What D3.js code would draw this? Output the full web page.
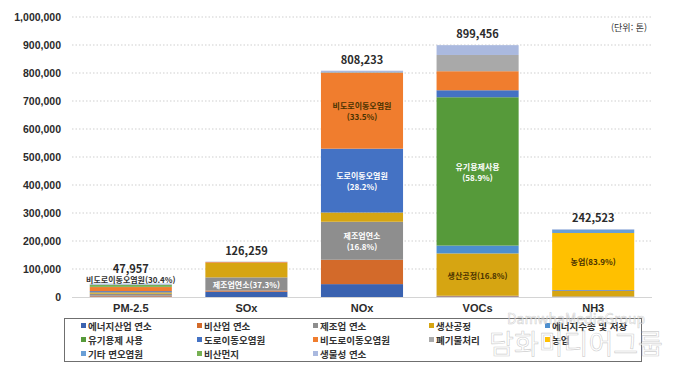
<!DOCTYPE html>
<html lang="ko">
<head>
<meta charset="utf-8">
<script src="https://cdn.jsdelivr.net/npm/d3@7/dist/d3.min.js"></script>
<style>
	body { margin: 0; background: #fff; }
	svg { display: block; font-family: 'Noto Sans CJK KR', 'Noto Sans', sans-serif; }
</style>
</head>
<body>
<svg id="chart" width="680" height="375"></svg>
<script>
// 오염물질별 배출원 배출량 (단위: 톤)
const pollutants = ['PM-2.5', 'SOx', 'NOx', 'VOCs', 'NH3'];
const sources = [
	'에너지산업 연소', '비산업 연소', '제조업 연소', '생산공정', '에너지수송 및 저장',
	'유기용제 사용', '도로이동오염원', '비도로이동오염원', '폐기물처리', '농업',
	'기타 면오염원', '비산먼지', '생물성 연소'
];

const energyIndustry = [1500, 19000, 46000, 2000, 1000];
const nonIndustry = [3200, 4000, 87000, 1500, 500];
const manufacturing = [7000, 47095, 135783, 1000, 500];
const production = [4800, 52000, 33000, 151109, 20000];
const energyTransport = [0, 0, 0, 28000, 0];
const solvent = [0, 0, 0, 529780, 0];
const roadMobile = [4500, 200, 227922, 25000, 2500];
const nonRoadMobile = [14579, 2500, 270758, 68000, 100];
const waste = [200, 1000, 3000, 58000, 500];
const agriculture = [0, 0, 0, 0, 203477];
const otherArea = [400, 0, 0, 0, 12000];
const dust = [7800, 0, 0, 0, 0];
const biomass = [3978, 464, 4770, 35067, 1946];

const seriesValues = [
	energyIndustry, nonIndustry, manufacturing, production, energyTransport,
	solvent, roadMobile, nonRoadMobile, waste, agriculture,
	otherArea, dust, biomass
];

const totalLabels = ['47,957', '126,259', '808,233', '899,456', '242,523'];
const yTicks = [0, 100000, 200000, 300000, 400000, 500000, 600000, 700000, 800000, 900000, 1000000];

// 막대 안 주석
const segmentLabels = [
	{ pollutant: 'PM-2.5', source: '비도로이동오염원', lines: ['비도로이동오염원(30.4%)'] },
	{ pollutant: 'SOx', source: '제조업 연소', lines: ['제조업연소(37.3%)'] },
	{ pollutant: 'NOx', source: '비도로이동오염원', lines: ['비도로이동오염원', '(33.5%)'] },
	{ pollutant: 'NOx', source: '도로이동오염원', lines: ['도로이동오염원', '(28.2%)'] },
	{ pollutant: 'NOx', source: '제조업 연소', lines: ['제조업연소', '(16.8%)'] },
	{ pollutant: 'VOCs', source: '유기용제 사용', lines: ['유기용제사용', '(58.9%)'] },
	{ pollutant: 'VOCs', source: '생산공정', lines: ['생산공정(16.8%)'] },
	{ pollutant: 'NH3', source: '농업', lines: ['농업(83.9%)'] }
];

const colors = [
	'#3a62b0', '#d36a2a', '#8e8e8e', '#d6a512', '#4d8fcf',
	'#569a3a', '#4472c4', '#f07d2e', '#a9a9a9', '#ffc000',
	'#6a9fd6', '#76b052', '#aab9df'
];
const darkTextSources = ['비도로이동오염원', '생산공정', '농업'];

const svg = d3.select('#chart');
const margin = { left: 73, right: 29, top: 17, bottom: 78 };
const width = 680;
const height = 375;

const table = pollutants.map((p, i) => {
	const row = { pollutant: p };
	sources.forEach((s, j) => {
		row[s] = seriesValues[j][i];
	});
	return row;
});

const x = d3.scaleBand().domain(pollutants).range([margin.left, width - margin.right]).paddingInner(0.29).paddingOuter(0.145);
const y = d3.scaleLinear().domain([0, 1000000]).range([height - margin.bottom, margin.top]);
const color = d3.scaleOrdinal().domain(sources).range(colors);

const stacked = d3.stack().keys(sources)(table);

// 격자선
svg.append('g')
	.selectAll('line')
	.data(yTicks.filter((t) => t > 0))
	.enter()
	.append('line')
	.attr('x1', margin.left - 1)
	.attr('x2', width - margin.right + 1)
	.attr('y1', (d) => y(d))
	.attr('y2', (d) => y(d))
	.attr('stroke', '#cfcfcf')
	.attr('stroke-width', 1)
	.attr('stroke-dasharray', '1.5,2');

// y축
const yAxis = svg.append('g')
	.attr('transform', 'translate(' + (margin.left - 12) + ',0)')
	.call(d3.axisLeft(y).tickValues(yTicks).tickFormat(d3.format(',')).tickSize(0).tickPadding(0));
yAxis.select('.domain').remove();
yAxis.selectAll('text')
	.style('font-size', '10.5px')
	.style('font-weight', 700)
	.attr('fill', '#2b2b2b');

// 막대
svg.append('g')
	.selectAll('g')
	.data(stacked)
	.enter()
	.append('g')
	.attr('fill', (d) => color(d.key))
	.selectAll('rect')
	.data((d) => d)
	.enter()
	.append('rect')
	.attr('x', (d) => x(d.data.pollutant))
	.attr('width', x.bandwidth())
	.attr('y', (d) => y(d[1]))
	.attr('height', (d) => y(d[0]) - y(d[1]));

// 기준선
svg.append('line')
	.attr('x1', margin.left - 1)
	.attr('x2', width - margin.right + 1)
	.attr('y1', y(0) + 0.5)
	.attr('y2', y(0) + 0.5)
	.attr('stroke', '#d4d4d4');

// x축 범주
const xAxis = svg.append('g')
	.attr('transform', 'translate(0,' + (y(0) + 7) + ')')
	.call(d3.axisBottom(x).tickSize(0).tickPadding(0));
xAxis.select('.domain').remove();
xAxis.selectAll('text')
	.style('font-size', '11px')
	.style('font-weight', 700)
	.attr('fill', '#2b2b2b');

// 막대 주석
const outsideLabels = [];
segmentLabels.forEach((lab) => {
	const layer = stacked.find((s) => s.key === lab.source);
	const seg = layer[pollutants.indexOf(lab.pollutant)];
	const top = y(seg[1]);
	const bottom = y(seg[0]);
	const cx = x(lab.pollutant) + x.bandwidth() / 2;
	let cy = (top + bottom) / 2;
	let fill = darkTextSources.includes(lab.source) ? '#4a3300' : '#ffffff';
	if (bottom - top < 9) {
		const barTop = y(d3.sum(seriesValues, (v) => v[pollutants.indexOf(lab.pollutant)]));
		cy = barTop - 5;
		fill = '#333333';
		outsideLabels.push(lab.pollutant);
	}
	const text = svg.append('text')
		.attr('x', cx)
		.attr('y', cy - (lab.lines.length - 1) * 5.5)
		.attr('text-anchor', 'middle')
		.attr('dominant-baseline', 'central')
		.style('font-size', '8px')
		.style('font-weight', 700)
		.attr('fill', fill);
	lab.lines.forEach((line, k) => {
		text.append('tspan')
			.attr('x', cx)
			.attr('dy', k === 0 ? 0 : 11)
			.text(line);
	});
});

// 합계
svg.append('g')
	.selectAll('text')
	.data(pollutants)
	.enter()
	.append('text')
	.attr('x', (d) => x(d) + x.bandwidth() / 2)
	.attr('y', (d, i) => {
		const total = d3.sum(seriesValues, (v) => v[i]);
		return y(total) - (outsideLabels.includes(d) ? 16 : 12);
	})
	.attr('text-anchor', 'middle')
	.attr('dominant-baseline', 'central')
	.style('font-size', '11px')
	.style('font-weight', 700)
	.attr('fill', '#2b2b2b')
	.text((d, i) => totalLabels[i]);

// 단위
svg.append('text')
	.attr('x', 647)
	.attr('y', 27)
	.attr('text-anchor', 'end')
	.attr('dominant-baseline', 'central')
	.style('font-size', '9px')
	.attr('fill', '#333')
	.text('(단위: 톤)');

// 범례
const legend = svg.append('g');
legend.append('rect')
	.attr('x', 64.5)
	.attr('y', 318.5)
	.attr('width', 577)
	.attr('height', 43)
	.attr('fill', '#fff')
	.attr('stroke', '#6f6f6f')
	.attr('stroke-width', 1);

const colX = [81, 197, 313, 429, 545];
const rowY = [325.5, 339.5, 353.5];
const items = legend.selectAll('g.item')
	.data(sources)
	.enter()
	.append('g')
	.attr('class', 'item')
	.attr('transform', (d, i) => 'translate(' + colX[i % 5] + ',' + rowY[Math.floor(i / 5)] + ')');
items.append('rect')
	.attr('x', 0)
	.attr('y', -2.5)
	.attr('width', 5)
	.attr('height', 5)
	.attr('fill', (d) => color(d));
items.append('text')
	.attr('x', 7)
	.attr('y', 0)
	.attr('dominant-baseline', 'central')
	.style('font-size', '9.5px')
	.style('font-weight', 700)
	.attr('fill', '#333')
	.text((d) => d);

// 워터마크
svg.append('text')
	.attr('x', 576)
	.attr('y', 318)
	.attr('text-anchor', 'middle')
	.attr('dominant-baseline', 'central')
	.style('font-size', '14px')
	.attr('fill', 'rgba(255,255,255,0.6)')
	.attr('stroke', 'rgba(150,150,150,0.45)')
	.attr('stroke-width', 0.6)
	.text('DamwhaMediaGroup');
svg.append('text')
	.attr('x', 576)
	.attr('y', 342)
	.attr('text-anchor', 'middle')
	.attr('dominant-baseline', 'central')
	.style('font-size', '27px')
	.attr('fill', 'rgba(255,255,255,0.6)')
	.attr('stroke', 'rgba(150,150,150,0.45)')
	.attr('stroke-width', 0.7)
	.text('담화미디어그룹');
</script>
</body>
</html>
